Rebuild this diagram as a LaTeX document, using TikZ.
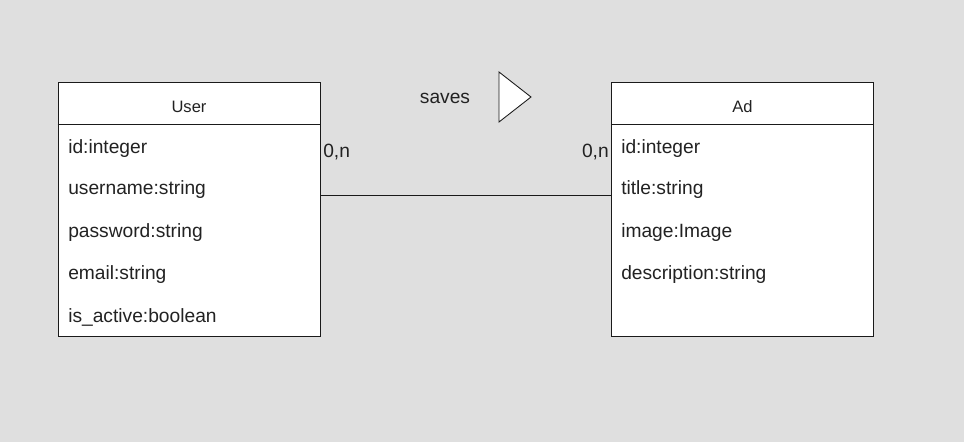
\documentclass[tikz,border=0pt]{standalone}
\usepackage{fontspec}
\setmainfont{Liberation Sans}
\usepackage{tikz}
\usetikzlibrary{positioning, calc}
\usepackage{xcolor}
\definecolor{bggray}{HTML}{DFDFDF}
\definecolor{linedark}{HTML}{1A1A1A}
\definecolor{textdark}{HTML}{222222}

\tikzset{
  entity/.style={draw=linedark, fill=white, line width=0.65pt, minimum width=196.5pt, minimum height=190.5pt, inner sep=0pt},
  attr/.style={anchor=west, inner sep=0pt, text=textdark, font=\fontsize{14.4}{16}\selectfont},
  etitle/.style={inner sep=0pt, text=textdark, font=\fontsize{12.4}{14}\selectfont},
  card/.style={inner sep=0pt, text=textdark, font=\fontsize{14.4}{16}\selectfont},
}

\begin{document}
\begin{tikzpicture}[x=0.75pt, y=-0.75pt]
        \fill[bggray] (0,0) rectangle (964,442);
        \useasboundingbox (0,0) rectangle (964,442);
        % User entity
        \node[entity] (user) at (189,209) {};
        \draw[linedark, line width=0.65pt] ($(user.north west)+(0,43)$) -- ($(user.north east)+(0,43)$);
        \node[etitle] (usertitle) at (189,107) {User};
        \node[attr] (uid) at (68,148.5) {id:integer};
        \node[attr, below=30.8pt of uid.west, anchor=west] (uname) {username:string};
        \node[attr, below=32.2pt of uname.west, anchor=west] (upass) {password:string};
        \node[attr, below=31.5pt of upass.west, anchor=west] (umail) {email:string};
        \node[attr, below=32.2pt of umail.west, anchor=west] (uactive) {is\_active:boolean};
        % Ad entity
        \node[entity] (ad) at (742.5,209) {};
        \draw[linedark, line width=0.65pt] ($(ad.north west)+(0,43)$) -- ($(ad.north east)+(0,43)$);
        \node[etitle] (adtitle) at (742.5,107) {Ad};
        \node[attr] (aid) at (621,148.5) {id:integer};
        \node[attr, below=30.8pt of aid.west, anchor=west] (atitle) {title:string};
        \node[attr, below=32.2pt of atitle.west, anchor=west] (aimage) {image:Image};
        \node[attr, below=31.5pt of aimage.west, anchor=west] (adesc) {description:string};
        % relation
        \coordinate (ufoot) at (user.east |- 0,195);
        \coordinate (afoot) at (ad.west |- 0,195);
        \draw[linedark, line width=0.65pt] (ufoot) -- (afoot);
        \node[card, anchor=west] (ucard) at (323,152) {0,n};
        \node[card, anchor=east] (acard) at (609,152) {0,n};
        \node[card] (saves) at (445,98.5) {saves};
        \draw[linedark, fill=white, line width=0.65pt] (499,72) -- (531,97) -- (499,122) -- cycle;
      \end{tikzpicture}
\end{document}
